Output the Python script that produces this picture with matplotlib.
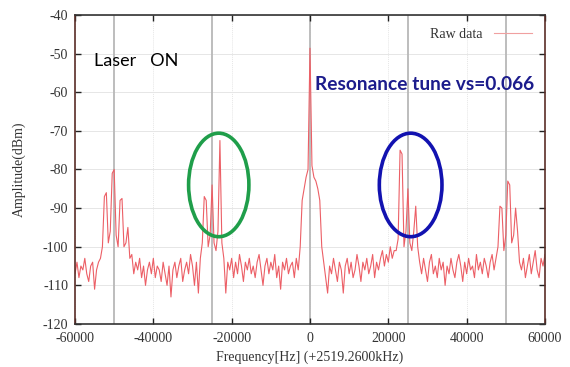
#!/usr/bin/env python3

import numpy as np
import matplotlib.pyplot as plt
from matplotlib.patches import Ellipse

# spectrum trace, 500 Hz bins from -60 kHz to +60 kHz (offset from 2519.26 MHz)
freq_start, freq_stop, freq_step = -60000, 60000, 500

floor_a = [-107, -104, -108, -105, -106, -103, -107, -109, -105, -104, -111, -106, -104, -103]
sideband_m50k = [-100, -87, -86, -99, -96, -81, -80, -97, -100, -88, -87.5, -100, -99, -95, -103]
floor_b = [-102, -107, -104, -106, -103, -108, -105, -110, -106, -104,
           -107, -103, -108, -105, -106, -109, -104, -107, -110, -105,
           -113, -106, -104, -108, -105, -103, -109, -106, -104, -107,
           -102, -105, -110, -104, -112]
sideband_m25k = [-103, -99, -87, -88, -100, -97, -84, -99, -101, -96, -72.5, -99, -103, -112, -104]
floor_c = [-106, -103, -108, -104, -107, -102, -105, -109, -104, -106,
           -103, -107, -105, -108, -104, -102, -106, -110, -105, -103,
           -107, -104, -106, -102, -108, -105, -111, -104, -106, -103,
           -107, -105, -104, -108, -103, -106]
carrier = [-100, -88, -85, -82, -80, -48.6, -79, -82, -83, -85, -88, -100, -104]
floor_d = [-108, -112, -105, -107, -103, -106, -109, -104, -106, -112,
           -105, -103, -107, -104, -108, -106, -102, -105, -109, -104,
           -106, -103, -107, -105, -102, -108, -104, -106, -103, -101,
           -105, -102, -104, -100, -103, -101]
sideband_p25k = [-101, -98, -75, -76, -100, -96, -85, -99, -101, -96, -89.5, -100, -104]
floor_e = [-107, -103, -106, -109, -104, -102, -107, -105, -108, -103,
           -106, -104, -110, -105, -107, -103, -106, -108, -104, -102,
           -105, -109, -104, -107, -103, -106, -105, -108, -102, -106,
           -104, -107, -103, -105, -108, -104, -102, -106, -103]
sideband_p50k = [-100, -89.5, -90, -101, -97, -83, -84, -99, -97, -90, -96, -104]
floor_f = [-106, -103, -108, -105, -102, -107, -104, -101, -106, -108, -103, -105, -102]

amplitude = np.array(floor_a + sideband_m50k + floor_b + sideband_m25k + floor_c + carrier
                     + floor_d + sideband_p25k + floor_e + sideband_p50k + floor_f)
freq = np.arange(freq_start, freq_stop + 1, freq_step)
assert len(freq) == len(amplitude)

marker_lines = [-50000, -25000, 0, 25000, 50000]
x_ticks = [-60000, -40000, -20000, 0, 20000, 40000, 60000]
y_ticks = [-120, -110, -100, -90, -80, -70, -60, -50, -40]

# annotation ellipses: (centre x, centre y, width Hz, height dB)
green_ring = (-23300, -84, 15400, 26.8)
blue_ring = (25700, -84, 16000, 26.8)

fig = plt.figure(figsize=(5.7, 3.67), dpi=100)
ax = fig.add_axes([0.1316, 0.1172, 0.8245, 0.8419])

serif = 'Liberation Serif'
fs = 10

# grid and marker lines
for xt in x_ticks:
    ax.axvline(xt, color='#e6e6e6', lw=0.7, ls=(0, (1, 1)), zorder=0)
for yt in y_ticks:
    ax.axhline(yt, color='#e6e6e6', lw=0.7, zorder=0)
for xm in marker_lines:
    ax.axvline(xm, color='#b8b8b8', lw=1.3, zorder=1)

ax.plot(freq, amplitude, color='#ec5f66', lw=0.8, label='Raw data', zorder=2)

for (cx, cy, w, h), col in [(green_ring, '#1f9e4a'), (blue_ring, '#1212b0')]:
    ax.add_patch(Ellipse((cx, cy), w, h, fill=False, edgecolor=col, lw=2.6, zorder=3))

ax.set_xlim(freq_start, freq_stop)
ax.set_ylim(-120, -40)
ax.set_xticks(x_ticks)
ax.set_yticks(y_ticks)
ax.set_xticklabels([str(v) for v in x_ticks], fontfamily=serif, fontsize=fs, color='#333333')
ax.set_yticklabels([str(v) for v in y_ticks], fontfamily=serif, fontsize=fs, color='#333333')
ax.tick_params(direction='in', top=True, right=True, length=4, width=1.0, color='#222222')
ax.tick_params(axis='x', pad=6)
ax.tick_params(axis='y', pad=5)

for side in ['top', 'bottom']:
    ax.spines[side].set_color('#333333')
for side in ['left', 'right']:
    ax.spines[side].set_color('#5a2e28')
for sp in ax.spines.values():
    sp.set_linewidth(1.2)

ax.set_xlabel('Frequency[Hz] (+2519.2600kHz)', fontfamily=serif, fontsize=fs, color='#333333', labelpad=4)
ax.set_ylabel('Amplitude(dBm)', fontfamily=serif, fontsize=fs, color='#333333', labelpad=12)

ax.text(-55200, -53.3, 'Laser   ON', fontfamily='Lato', fontsize=13, color='black')
ax.text(57300, -59.4, 'Resonance tune vs=0.066', fontfamily='Lato', fontsize=13.8,
        color='#1c1c8c', ha='right', va='baseline', fontweight='bold')

leg = ax.legend(loc='upper right', frameon=False, handlelength=2.8, borderaxespad=0.5,
                prop={'family': serif, 'size': fs}, markerfirst=False)
for t in leg.get_texts():
    t.set_color('#333333')
for line in leg.get_lines():
    line.set_color('#f0a0a0')

fig.savefig('out.png', dpi=100)
plt.close(fig)
